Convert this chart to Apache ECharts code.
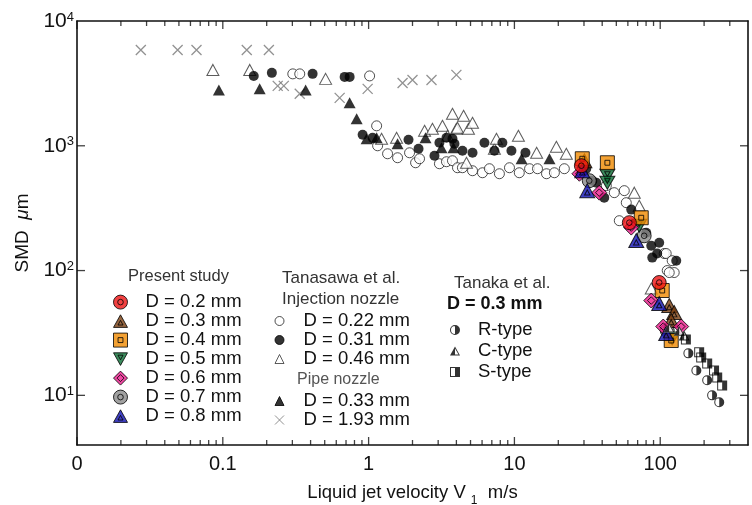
<!DOCTYPE html>
<html lang="en">
<head>
<meta charset="UTF-8" />
<title>SMD vs liquid jet velocity</title>
<script src="https://cdn.jsdelivr.net/npm/echarts@6.0.0/dist/echarts.min.js"></script>
<style>
  html, body { margin: 0; padding: 0; background: #fff; }
  #main { width: 752px; height: 505px; }
</style>
</head>
<body>
<div id="main"></div>
<script>
// ---- data: [velocity m/s, SMD um] ----
// Present study
const present02 = [[28.8, 692], [61.4, 242], [98.4, 80.2]];
const present03 = [[30.2, 759], [115.3, 52.5], [124.7, 46.1], [119, 39.8]];
const present04 = [[29.2, 787], [43.4, 731], [74.1, 265], [103.2, 69.2], [119, 27.5]];
const present05 = [[43.4, 575], [43.4, 506], [71.8, 229], [120.8, 28.6]];
const present06 = [[27.9, 597], [38.2, 421], [63.3, 221], [86.8, 57.5], [104.9, 35.6], [139.3, 35.6]];
const present07 = [[32.6, 525], [77.6, 190], [111.7, 33.1]];
const present08 = [[29.2, 631], [31.6, 437], [68.5, 174], [98.4, 54.5], [109.9, 31.3]];

// Tanasawa et al., injection nozzle
const tanasawa022 = [
  [0.302, 3770], [0.337, 3770], [1.016, 3630],
  [1.135, 1445], [1.153, 1000], [1.349, 863], [1.58, 802], [1.909, 879], [2.1, 731], [2.235, 787],
  [3.06, 718], [3.42, 745], [3.76, 759], [4.07, 667], [4.4, 667], [5.16, 631], [6.04, 608],
  [6.74, 655], [7.89, 597], [9.25, 667], [10.8, 608], [12.7, 655], [14.4, 655], [16.6, 597],
  [18.8, 608], [22, 655],
  [42.7, 479], [48.4, 421], [56.7, 437], [58.5, 350], [52.4, 251],
  [106.5, 137], [109.9, 137], [120.8, 120], [111.7, 100], [124.7, 96.4], [115.3, 96.4]
];
const tanasawa031 = [
  [0.163, 3630], [0.217, 3840], [0.413, 3770], [0.685, 3565], [0.741, 3565],
  [0.91, 1225], [1.065, 1159], [1.878, 1117], [2.2, 946], [2.83, 832], [3.06, 1057], [3.42, 1159],
  [3.76, 1138], [3.88, 1038], [4.4, 912], [5.16, 879], [6.23, 1057], [7.29, 912], [8.27, 1057],
  [9.54, 912], [11.9, 879],
  [31.1, 655], [34.2, 525], [36.5, 506], [41.3, 384], [63.3, 308], [80.2, 201], [86.8, 158],
  [95.3, 137], [98.4, 167], [88.2, 127], [128.8, 120]
];
const tanasawa046 = [
  [0.0855, 4055], [0.153, 4055], [0.507, 3436],
  [1.227, 1138], [1.555, 1159], [2.42, 1318], [2.74, 1368], [3.21, 1445], [3.48, 1202],
  [3.76, 1803], [4.0, 1368], [4.07, 1393], [4.48, 1738], [4.84, 1368], [5.16, 1528], [4.69, 731],
  [7.29, 946], [7.53, 1138], [10.65, 1202], [14.2, 879], [19.4, 982], [22.7, 863],
  [66.4, 421], [71.8, 331], [86.8, 71.8]
];
// Tanasawa et al., pipe nozzle
const pipe033 = [
  [0.094, 2805], [0.179, 2858], [0.37, 2805], [0.741, 2208], [0.828, 1644], [0.969, 1138],
  [1.135, 1159], [1.58, 1038], [2.456, 1159], [3.16, 964], [3.82, 964], [11.2, 787], [17.4, 787]
];
const pipe193 = [
  [0.0274, 5860], [0.049, 5860], [0.066, 5860], [0.146, 5860], [0.207, 5860],
  [0.238, 3020], [0.262, 3020], [0.337, 2610], [0.633, 2420], [0.985, 2860],
  [1.71, 3190], [2.0, 3370], [2.7, 3370], [4.0, 3700]
];

// Tanaka et al., D = 0.3 mm
const tanakaR = [[156, 21.7], [177, 15.8], [210, 13.2], [227, 10.0], [254, 8.8]];
const tanakaC = [[115, 35.0], [135, 33.0], [146, 30.2]];
const tanakaS = [[150, 28.0], [185, 22.1], [191, 20.1], [210, 18.0], [234, 15.8], [246, 13.9], [266, 12.0]];

// axis ticks
const xTickValues = [0.01, 0.1, 1, 10, 100];
const xTickLabels = ['0', '0.1', '1', '10', '100'];
const yTickValues = [10, 100, 1000, 10000];
const yTickExps = ['1', '2', '3', '4'];
const X_MIN = 0.01, X_MAX = 400, Y_MIN = 4, Y_MAX = 10000;

const FONT = "'Liberation Sans', Arial, sans-serif";
const AX = '#111';

// symbols (outer shape + inner outline)
const P_CIRCLE2 = 'path://M0,10A10,10 0 1 1 20,10A10,10 0 1 1 0,10Z M6,10A4,4 0 1 1 14,10A4,4 0 1 1 6,10Z';
const P_TRI2 = 'path://M10,0L20,18L0,18Z M10,8L13.6,14.6L6.4,14.6Z';
const P_SQ2 = 'path://M0,0H20V20H0Z M6.5,6.5H13.5V13.5H6.5Z';
const P_ITRI2 = 'path://M0,0H20L10,18Z M6.4,3.4H13.6L10,10Z';
const P_DIA2 = 'path://M10,0L20,10L10,20L0,10Z M10,5L15,10L10,15L5,10Z';
const P_CROSS = 'path://M0,0L20,20M20,0L0,20';
// half filled (ring + half)
const P_HALF_CIRCLE = 'path://M0,10A10,10 0 1 1 20,10A10,10 0 1 1 0,10Z M2,10A8,8 0 1 0 18,10A8,8 0 1 0 2,10Z M10,0A10,10 0 0 1 10,20Z';
const P_HALF_TRI = 'path://M10,0L20,18L0,18Z M10,4L3,16.2L17,16.2Z M10,0L10,18L0,18Z';
const P_HALF_SQ = 'path://M0,0H20V20H0Z M2,2V18H18V2Z M10,0H20V20H10Z';

function scat(name, data, symbol, size, style) {
  return {
    name: name, type: 'scatter', data: data, symbol: symbol, symbolSize: size,
    itemStyle: style, emphasis: { disabled: true }
  };
}

// tick marks drawn as thin rect symbols sitting on the frame, pointing inward
const TW = 1.3;
const xTickMarks = [];
xTickValues.forEach(function (b) {
  const all = [[b, 8]];
  for (let m = 2; m <= 9; m++) { if (m * b < X_MAX) all.push([m * b, 5]); }
  all.forEach(function (t) {
    xTickMarks.push({ value: [t[0], Y_MIN], symbolSize: [TW, t[1]], symbolOffset: [0, -t[1] / 2] });
    xTickMarks.push({ value: [t[0], Y_MAX], symbolSize: [TW, t[1]], symbolOffset: [0, t[1] / 2] });
  });
});
const yTickMarks = [];
yTickValues.slice(0, 3).forEach(function (v) {
  yTickMarks.push({ value: [X_MIN, v], symbolSize: [8, TW], symbolOffset: [4, 0] });
  yTickMarks.push({ value: [X_MAX, v], symbolSize: [8, TW], symbolOffset: [-4, 0] });
});

function xLabel(v) {
  const i = xTickValues.findIndex(function (t) { return Math.abs(Math.log10(v) - Math.log10(t)) < 1e-6; });
  return i < 0 ? '' : xTickLabels[i];
}
function yLabel(v) {
  const i = yTickValues.findIndex(function (t) { return Math.abs(Math.log10(v) - Math.log10(t)) < 1e-6; });
  return i < 0 ? '' : '{b|10}{s|' + yTickExps[i] + '}';
}

const lineStyle = { color: AX, width: 1.6 };

const chart = echarts.init(document.getElementById('main'));

const option = {
  animation: false,
  backgroundColor: '#fff',
  grid: { left: 77, right: 4, top: 21, bottom: 60, containLabel: false, outerBoundsMode: 'none' },
  xAxis: [
    {
      type: 'log', logBase: 10, min: X_MIN, max: X_MAX, position: 'bottom',
      axisLine: { show: true, onZero: false, lineStyle: lineStyle },
      axisTick: { show: false },
      axisLabel: { formatter: xLabel, color: AX, fontSize: 20, fontFamily: FONT, margin: 9 },
      splitLine: { show: false },
      name: '{a|Liquid jet velocity V }{s|1}{a|  m/s}',
      nameLocation: 'middle', nameGap: 38,
      nameTextStyle: {
        rich: {
          a: { fontSize: 18.5, fontFamily: FONT, color: AX, lineHeight: 24, verticalAlign: 'top' },
          s: { fontSize: 12, fontFamily: FONT, color: AX, lineHeight: 12, verticalAlign: 'bottom' }
        }
      }
    },
    {
      type: 'log', logBase: 10, min: X_MIN, max: X_MAX, position: 'top',
      axisLine: { show: true, onZero: false, lineStyle: lineStyle },
      axisTick: { show: false }, axisLabel: { show: false }, splitLine: { show: false }
    }
  ],
  yAxis: [
    {
      type: 'log', logBase: 10, min: Y_MIN, max: Y_MAX, position: 'left',
      axisLine: { show: true, onZero: false, lineStyle: lineStyle },
      axisTick: { show: false },
      axisLabel: {
        formatter: yLabel, margin: 3,
        rich: {
          b: { fontSize: 21, fontFamily: FONT, color: AX, lineHeight: 21 },
          s: { fontSize: 13, fontFamily: FONT, color: AX, lineHeight: 11, verticalAlign: 'top' }
        }
      },
      splitLine: { show: false },
      name: '{a|SMD  }{m|\u03bc}{a|m}',
      nameLocation: 'middle', nameGap: 44, nameRotate: 90,
      nameTextStyle: {
        rich: {
          a: { fontSize: 19, fontFamily: FONT, color: AX },
          m: { fontSize: 19, fontFamily: FONT, color: AX, fontStyle: 'italic' }
        }
      }
    },
    {
      type: 'log', logBase: 10, min: Y_MIN, max: Y_MAX, position: 'right',
      axisLine: { show: true, onZero: false, lineStyle: lineStyle },
      axisTick: { show: false }, axisLabel: { show: false }, splitLine: { show: false }
    }
  ],
  legend: [
    {
      data: ['D = 0.2 mm', 'D = 0.3 mm', 'D = 0.4 mm', 'D = 0.5 mm', 'D = 0.6 mm', 'D = 0.7 mm', 'D = 0.8 mm'],
      orient: 'vertical', left: 113, top: 292.6, padding: 0, itemGap: 0,
      itemWidth: 14, itemHeight: 14, selectedMode: false,
      itemStyle: { borderWidth: 1 },
      textStyle: { fontSize: 18.5, lineHeight: 18.7, fontFamily: FONT, color: AX, padding: [0, 0, 0, 13] }
    },
    {
      data: ['D = 0.22 mm', 'D = 0.31 mm', 'D = 0.46 mm'],
      orient: 'vertical', left: 274.5, top: 311.5, padding: 0, itemGap: 0,
      itemWidth: 9, itemHeight: 9, selectedMode: false,
      itemStyle: { borderWidth: 1 },
      textStyle: { fontSize: 18.5, lineHeight: 19, fontFamily: FONT, color: AX, padding: [0, 0, 0, 14.5] }
    },
    {
      data: ['D = 0.33 mm', 'D = 1.93 mm'],
      orient: 'vertical', left: 274.5, top: 391.5, padding: 0, itemGap: 0,
      itemWidth: 9, itemHeight: 9, selectedMode: false,
      itemStyle: { borderWidth: 1 },
      textStyle: { fontSize: 18.5, lineHeight: 19, fontFamily: FONT, color: AX, padding: [0, 0, 0, 14.5] }
    },
    {
      data: ['R-type', 'C-type', 'S-type'],
      orient: 'vertical', left: 450, top: 319.5, padding: 0, itemGap: 0,
      itemWidth: 10, itemHeight: 10, selectedMode: false,
      itemStyle: { borderWidth: 0 },
      textStyle: { fontSize: 18.5, lineHeight: 21, fontFamily: FONT, color: AX, padding: [0, 0, 0, 13] }
    }
  ],
  graphic: [
    { type: 'text', x: 128, y: 276, style: { text: 'Present study', fontSize: 16.5, fontFamily: FONT, fill: '#333', verticalAlign: 'middle' } },
    { type: 'text', x: 282, y: 278, style: { text: 'Tanasawa et al.', fontSize: 17, fontFamily: FONT, fill: '#333', verticalAlign: 'middle' } },
    { type: 'text', x: 282, y: 299, style: { text: 'Injection nozzle', fontSize: 17, fontFamily: FONT, fill: '#333', verticalAlign: 'middle' } },
    { type: 'text', x: 297, y: 380, style: { text: 'Pipe nozzle', fontSize: 16, fontFamily: FONT, fill: '#555', verticalAlign: 'middle' } },
    { type: 'text', x: 454, y: 283, style: { text: 'Tanaka et al.', fontSize: 17, fontFamily: FONT, fill: '#333', verticalAlign: 'middle' } },
    { type: 'text', x: 447, y: 304, style: { text: 'D = 0.3 mm', fontSize: 18, fontWeight: 'bold', fontFamily: FONT, fill: AX, verticalAlign: 'middle' } }
  ],
  series: [
    {
      name: 'xTicks', type: 'scatter', data: xTickMarks, symbol: 'rect', clip: false, silent: true,
      itemStyle: { color: AX, borderWidth: 0 }, emphasis: { disabled: true }
    },
    {
      name: 'yTicks', type: 'scatter', data: yTickMarks, symbol: 'rect', clip: false, silent: true,
      itemStyle: { color: AX, borderWidth: 0 }, emphasis: { disabled: true }
    },

    scat('D = 0.22 mm', tanasawa022, 'circle', 10, { color: '#fff', borderColor: '#222', borderWidth: 1 }),
    scat('D = 0.46 mm', tanasawa046, 'triangle', [12, 11], { color: '#fff', borderColor: '#333', borderWidth: 1 }),
    scat('D = 1.93 mm', pipe193, P_CROSS, 10, { color: 'transparent', borderColor: '#777', borderWidth: 1.3 }),
    scat('D = 0.33 mm', pipe033, 'triangle', [12, 11], { color: '#000', borderColor: '#000', borderWidth: 0 }),
    scat('D = 0.31 mm', tanasawa031, 'circle', 10, { color: '#000', borderColor: '#000', borderWidth: 0 }),

    scat('D = 0.7 mm', present07, P_CIRCLE2, 14, { color: '#8a8a8a', borderColor: '#000', borderWidth: 1 }),
    scat('D = 0.5 mm', present05, P_ITRI2, [15, 13], { color: '#0b6e34', borderColor: '#000', borderWidth: 1 }),
    scat('D = 0.3 mm', present03, P_TRI2, [15, 14], { color: '#7b3f10', borderColor: '#000', borderWidth: 1 }),
    scat('D = 0.4 mm', present04, P_SQ2, 14, { color: '#f08a00', borderColor: '#000', borderWidth: 1 }),
    scat('D = 0.6 mm', present06, P_DIA2, 15, { color: '#ec1a8c', borderColor: '#000', borderWidth: 1 }),
    scat('D = 0.8 mm', present08, P_TRI2, [15, 14], { color: '#1010b4', borderColor: '#000', borderWidth: 1 }),
    scat('D = 0.2 mm', present02, P_CIRCLE2, 14, { color: '#ee1111', borderColor: '#000', borderWidth: 1 }),

    scat('bgR', tanakaR, 'circle', 10, { color: '#fff', borderWidth: 0 }),
    scat('bgC', tanakaC, 'triangle', [11, 10], { color: '#fff', borderWidth: 0 }),
    scat('bgS', tanakaS, 'rect', 10, { color: '#fff', borderWidth: 0 }),
    scat('R-type', tanakaR, P_HALF_CIRCLE, 10, { color: '#000', borderColor: '#000', borderWidth: 0 }),
    scat('C-type', tanakaC, P_HALF_TRI, [11, 10], { color: '#000', borderColor: '#000', borderWidth: 0 }),
    scat('S-type', tanakaS, P_HALF_SQ, 10, { color: '#000', borderColor: '#000', borderWidth: 0 })
  ]
};

chart.setOption(option);
</script>
</body>
</html>
